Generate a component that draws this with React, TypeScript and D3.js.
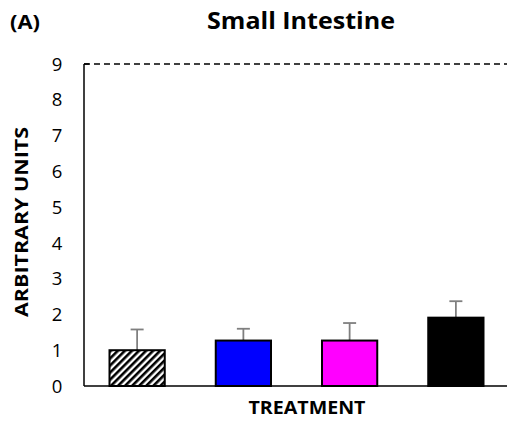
import React from "react";
import * as d3 from "d3";

const groups = ["Control", "Blue", "Magenta", "Black"];
const means = [1.0, 1.27, 1.27, 1.91];
const errs = [0.58, 0.33, 0.49, 0.46];
const fills = ["url(#hatch)", "#0000ff", "#ff00ff", "#000000"];
const yTicks = [0, 1, 2, 3, 4, 5, 6, 7, 8, 9];
const refLine = 9;

export default function App() {
  const width = 507;
  const height = 423;
  const margin = { top: 64, right: 0, bottom: 37, left: 84 };
  const font = "'Open Sans', sans-serif";

  const x = d3.scaleBand().domain(groups).range([margin.left, width - margin.right + 2]).paddingInner(0.48).paddingOuter(0.24);
  const y = d3.scaleLinear().domain([0, 9]).range([height - margin.bottom, margin.top]);

  return (
    <svg width={width} height={height} style={{ position: "absolute", left: 0, top: 0 }}>
      <defs>
        <pattern id="hatch" patternUnits="userSpaceOnUse" width="5" height="5" patternTransform="rotate(45)">
          <rect width="5" height="5" fill="#fff" />
          <rect width="2.6" height="5" fill="#000" />
        </pattern>
      </defs>
      <rect width={width} height={height} fill="#fff" />
      <text x={10} y={29} fontFamily={font} fontWeight="bold" fontSize={19} textLength={30} lengthAdjust="spacingAndGlyphs">(A)</text>
      <text x={301} y={29} textAnchor="middle" fontFamily={font} fontWeight="bold" fontSize={23} textLength={188} lengthAdjust="spacingAndGlyphs">Small Intestine</text>

      {yTicks.map((t) => (
        <text key={t} x={57} y={y(t)} dy="0.36em" textAnchor="middle" fontFamily={font} fontSize={18.5}>{t}</text>
      ))}

      <line x1={margin.left} x2={width} y1={y(refLine)} y2={y(refLine)} stroke="#000" strokeWidth={1.5} strokeDasharray="6,4" />
      <line x1={margin.left} x2={margin.left + 5} y1={y(refLine)} y2={y(refLine)} stroke="#000" strokeWidth={1.5} />

      {groups.map((g, i) => {
        const cx = x(g)! + x.bandwidth() / 2;
        return (
          <g key={g}>
            <line x1={cx} x2={cx} y1={y(means[i])} y2={y(means[i] + errs[i])} stroke="#7f7f7f" strokeWidth={1.8} />
            <line x1={cx - 6.5} x2={cx + 6.5} y1={y(means[i] + errs[i])} y2={y(means[i] + errs[i])} stroke="#7f7f7f" strokeWidth={1.8} />
            <rect x={x(g)} y={y(means[i])} width={x.bandwidth()} height={y(0) - y(means[i])} fill={fills[i]} stroke="#000" strokeWidth={2} />
          </g>
        );
      })}

      <line x1={margin.left} x2={margin.left} y1={y(refLine)} y2={y(0)} stroke="#000" strokeWidth={1.5} />
      <line x1={margin.left} x2={width} y1={y(0)} y2={y(0)} stroke="#000" strokeWidth={1.5} />

      <text x={307} y={414} textAnchor="middle" fontFamily={font} fontWeight="bold" fontSize={17} textLength={117} lengthAdjust="spacingAndGlyphs">TREATMENT</text>
      <text transform={`translate(28,222) rotate(-90)`} textAnchor="middle" fontFamily={font} fontWeight="bold" fontSize={17.5} textLength={190} lengthAdjust="spacingAndGlyphs">ARBITRARY UNITS</text>
    </svg>
  );
}
